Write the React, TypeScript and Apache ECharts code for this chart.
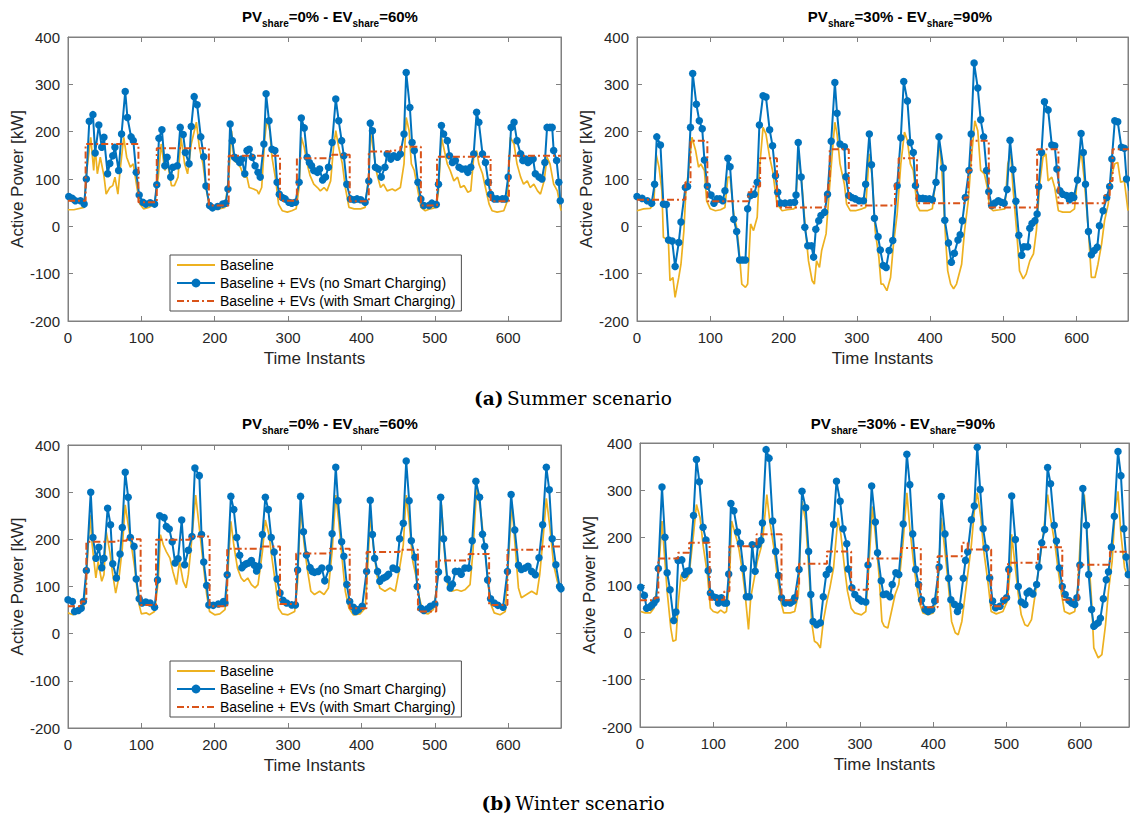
import React, { useEffect, useRef } from "react";
import * as echarts from "echarts";

type Pt = [number, number];

// ---------- (a) Summer, PV share 0% - EV share 60% ----------
const summerPv0Baseline: Pt[] = [[0,35],[8,35],[22,40],[25,110],[31,188],[35,118],[37,167],[40,111],[44,146],[49,107],[52,68],[57,82],[61,86],[64,104],[68,68],[71,118],[76,188],[80,146],[85,125],[89,132],[94,82],[98,47],[103,37],[110,40],[118,47],[123,104],[127,174],[132,118],[136,132],[141,86],[145,86],[150,104],[154,188],[159,132],[163,111],[168,174],[175,220],[179,167],[184,132],[188,82],[193,40],[197,35],[206,37],[214,40],[219,104],[223,202],[226,139],[230,135],[235,125],[240,104],[244,104],[247,82],[253,79],[258,75],[260,68],[264,82],[268,181],[271,227],[275,202],[278,146],[283,100],[287,47],[292,33],[299,30],[305,33],[311,37],[315,82],[318,188],[322,167],[326,132],[330,107],[335,89],[340,82],[344,75],[349,82],[353,75],[358,96],[362,167],[365,202],[369,167],[374,132],[378,82],[383,40],[390,37],[399,37],[405,40],[410,111],[412,202],[417,153],[421,111],[426,82],[430,89],[435,75],[442,79],[446,75],[453,82],[458,132],[461,230],[465,202],[468,132],[472,118],[477,75],[481,40],[487,33],[494,37],[502,40],[505,75],[509,188],[512,167],[517,132],[521,118],[526,96],[531,104],[535,82],[540,86],[545,72],[549,75],[553,146],[557,160],[560,132],[565,111],[569,82],[574,47],[578,33],[585,30],[594,33],[599,54],[603,188],[608,174],[612,132],[617,104],[621,89],[626,96],[630,82],[635,89],[640,75],[644,68],[649,96],[653,146],[657,132],[662,89],[667,75],[672,33]];
const summerPv0NoSmart: Pt[] = [[1,63],[6,59],[10,54],[17,54],[22,47],[25,100],[29,222],[34,236],[37,155],[42,214],[46,167],[49,188],[54,111],[57,133],[61,149],[64,167],[69,118],[73,195],[78,285],[81,230],[86,189],[89,181],[93,114],[97,66],[102,51],[106,47],[112,50],[118,47],[121,88],[124,186],[128,204],[132,128],[135,146],[140,104],[143,125],[149,128],[153,209],[157,194],[160,156],[165,132],[168,211],[172,274],[176,257],[181,189],[185,147],[188,85],[193,44],[197,39],[204,42],[211,47],[215,49],[218,79],[221,216],[224,181],[227,146],[230,142],[234,135],[237,142],[241,111],[244,160],[247,163],[251,146],[255,128],[259,114],[262,104],[267,174],[270,280],[274,223],[278,163],[282,160],[285,93],[288,68],[292,61],[296,58],[301,51],[305,49],[310,51],[315,93],[318,229],[322,208],[326,146],[329,135],[332,128],[335,118],[340,114],[343,121],[347,98],[351,104],[355,125],[360,177],[365,269],[369,223],[373,181],[376,149],[380,89],[385,58],[390,56],[394,58],[399,56],[405,51],[410,96],[412,218],[415,202],[419,125],[423,121],[427,104],[432,125],[435,153],[440,142],[444,149],[449,146],[453,153],[458,195],[461,325],[466,251],[469,177],[472,160],[477,93],[481,58],[485,44],[492,44],[496,49],[502,46],[505,89],[509,213],[512,195],[517,181],[520,149],[524,135],[528,139],[533,125],[537,121],[542,121],[545,114],[549,125],[553,153],[557,241],[560,220],[565,153],[569,135],[573,93],[576,68],[581,58],[585,58],[592,58],[596,58],[600,104],[604,209],[608,220],[612,181],[617,153],[620,139],[624,142],[627,135],[630,139],[634,142],[637,111],[642,104],[646,100],[650,135],[653,209],[657,209],[660,209],[662,160],[666,139],[669,93],[671,54]];
const summerPv0Smart: Pt[] = [[0,54],[24,174],[96,51],[121,165],[192,44],[219,149],[289,54],[312,144],[360,151],[384,53],[410,158],[440,160],[453,168],[481,44],[503,147],[576,53],[601,149],[672,149]];

// ---------- (a) Summer, PV share 30% - EV share 90% ----------
const summerPv30Baseline: Pt[] = [[0,33],[9,37],[18,38],[23,47],[26,153],[30,125],[34,75],[36,-23],[40,-27],[43,-37],[45,-115],[49,-108],[52,-150],[57,-108],[60,-80],[64,-9],[67,82],[70,111],[75,188],[80,160],[84,125],[87,132],[92,118],[95,54],[100,37],[107,33],[114,35],[120,40],[124,104],[127,104],[132,26],[136,-2],[139,-44],[143,-122],[148,-129],[151,-122],[155,5],[159,-9],[164,19],[167,118],[172,209],[176,195],[181,146],[185,118],[191,47],[198,33],[205,35],[214,37],[216,40],[218,89],[220,160],[225,89],[230,-9],[234,-73],[239,-115],[242,-122],[245,-73],[249,-87],[252,-51],[258,-16],[261,47],[266,146],[270,220],[273,195],[277,132],[283,89],[286,47],[291,33],[298,33],[307,37],[312,40],[317,153],[321,104],[325,-9],[330,-65],[333,-122],[336,-122],[341,-136],[346,-108],[350,-37],[355,26],[360,132],[365,199],[369,181],[373,132],[377,118],[382,44],[386,33],[396,33],[403,37],[409,118],[412,181],[416,118],[421,-23],[424,-94],[428,-122],[432,-132],[436,-122],[443,-80],[447,-9],[452,54],[456,139],[461,223],[465,202],[469,118],[474,111],[478,82],[481,40],[486,33],[495,35],[502,37],[506,132],[510,153],[513,82],[518,-9],[522,-94],[527,-111],[531,-101],[536,-73],[541,-58],[545,-9],[550,96],[554,146],[558,153],[561,96],[566,104],[570,82],[575,33],[581,30],[591,30],[597,37],[602,118],[606,160],[610,104],[616,-9],[620,-108],[625,-108],[629,-80],[634,-37],[638,12],[643,47],[647,104],[652,132],[656,135],[660,93],[665,96],[670,33]];
const summerPv30NoSmart: Pt[] = [[0,63],[7,59],[14,54],[20,49],[24,89],[27,189],[32,172],[36,47],[40,46],[43,-29],[48,-31],[52,-85],[57,-34],[60,9],[66,82],[69,84],[73,209],[76,323],[81,258],[85,223],[89,206],[92,140],[96,85],[101,66],[105,49],[109,58],[113,58],[117,54],[120,75],[124,144],[127,126],[132,15],[136,-11],[140,-71],[144,-71],[148,-71],[151,37],[155,65],[160,68],[164,93],[167,214],[172,276],[176,273],[181,204],[185,170],[189,107],[192,72],[196,49],[202,49],[209,50],[215,51],[217,66],[220,177],[224,104],[229,-2],[233,-41],[238,-41],[241,-65],[244,-6],[248,12],[251,23],[256,30],[260,68],[265,180],[270,304],[273,239],[277,174],[283,168],[285,105],[289,65],[293,61],[298,58],[303,54],[309,54],[312,89],[317,195],[320,130],[324,17],[329,-22],[332,-50],[336,-83],[340,-87],[344,-51],[349,-30],[355,86],[360,187],[364,306],[369,265],[373,177],[377,156],[380,86],[385,59],[390,59],[394,58],[399,58],[403,56],[408,93],[412,189],[418,123],[420,13],[425,-35],[429,-76],[433,-57],[438,-29],[441,-18],[444,12],[448,61],[453,118],[456,195],[460,345],[465,292],[469,225],[473,189],[477,118],[480,73],[484,44],[488,49],[493,54],[497,51],[501,49],[505,78],[509,182],[513,120],[517,53],[521,-19],[525,-61],[528,-43],[533,-43],[536,-4],[539,6],[543,12],[546,26],[548,84],[552,156],[556,263],[561,246],[566,172],[570,170],[573,121],[577,75],[581,68],[586,65],[590,56],[593,65],[596,61],[601,98],[606,196],[609,156],[612,89],[616,-11],[620,-60],[624,-51],[628,-44],[631,1],[636,33],[641,61],[645,84],[648,142],[652,223],[656,221],[661,167],[665,165],[668,100],[672,75]];
const summerPv30Smart: Pt[] = [[0,56],[66,93],[73,181],[96,53],[152,72],[156,84],[168,144],[191,40],[257,68],[261,96],[263,163],[289,44],[352,89],[357,144],[382,49],[447,61],[452,118],[456,181],[480,40],[546,163],[575,49],[638,65],[645,96],[649,163],[672,163]];

// ---------- (b) Winter, PV share 0% - EV share 60% ----------
const winterPv0Baseline: Pt[] = [[0,44],[7,40],[16,46],[21,54],[25,118],[30,252],[33,188],[38,118],[41,153],[46,111],[49,125],[52,217],[57,174],[61,125],[65,86],[70,125],[74,181],[78,273],[82,231],[87,181],[91,139],[96,68],[100,42],[107,44],[111,40],[118,47],[123,111],[126,210],[130,188],[134,174],[139,160],[143,132],[148,104],[152,153],[157,111],[161,97],[164,125],[168,188],[174,294],[179,224],[183,167],[189,83],[193,47],[200,40],[207,42],[214,51],[217,104],[222,238],[226,188],[231,139],[236,118],[240,111],[245,118],[250,104],[255,97],[259,104],[265,174],[269,241],[274,210],[278,160],[283,104],[287,54],[292,42],[300,40],[309,47],[313,111],[317,266],[322,188],[326,139],[331,90],[336,83],[343,90],[349,83],[355,97],[360,174],[365,294],[369,238],[374,153],[378,90],[383,54],[389,40],[398,42],[405,54],[409,153],[412,252],[416,188],[421,125],[425,97],[432,90],[439,97],[446,90],[452,139],[457,188],[461,294],[465,238],[470,153],[474,125],[479,76],[484,44],[491,42],[498,51],[502,90],[506,167],[509,273],[514,153],[518,97],[523,90],[530,93],[536,90],[541,93],[548,104],[552,174],[557,309],[562,266],[566,210],[571,139],[575,68],[581,44],[589,40],[596,47],[600,146],[605,276],[609,195],[614,97],[618,76],[625,83],[632,90],[639,83],[643,125],[648,210],[652,287],[657,224],[662,146],[667,111],[672,90]];
const winterPv0NoSmart: Pt[] = [[0,72],[6,68],[9,47],[14,49],[18,54],[21,68],[25,134],[31,300],[34,204],[38,160],[42,183],[46,140],[49,160],[54,266],[58,231],[61,148],[66,118],[71,169],[74,225],[78,342],[82,289],[85,204],[90,185],[93,116],[97,74],[101,65],[106,67],[112,65],[118,56],[122,114],[125,250],[131,246],[134,227],[138,222],[142,195],[146,150],[150,159],[155,241],[159,146],[164,177],[169,206],[173,351],[179,335],[182,210],[185,152],[189,102],[192,61],[198,60],[205,63],[212,68],[214,65],[217,125],[222,291],[226,263],[230,204],[234,166],[237,140],[240,145],[243,148],[246,150],[250,155],[254,145],[257,133],[260,143],[265,210],[269,289],[273,263],[277,204],[281,173],[285,116],[289,86],[293,71],[298,65],[305,61],[310,61],[313,135],[317,291],[321,216],[325,167],[330,140],[333,132],[336,130],[341,132],[346,139],[350,112],[356,139],[360,212],[365,353],[368,282],[373,195],[376,164],[380,104],[384,68],[389,56],[392,47],[396,51],[401,58],[407,132],[412,283],[415,210],[418,160],[422,132],[425,111],[430,118],[434,121],[437,126],[443,139],[448,136],[452,201],[457,234],[461,366],[465,282],[468,197],[473,162],[476,100],[481,54],[485,49],[490,53],[494,58],[500,63],[505,131],[508,289],[512,201],[517,116],[521,97],[524,105],[528,132],[533,132],[536,126],[541,139],[546,139],[551,197],[556,323],[561,289],[565,211],[568,185],[572,114],[576,74],[581,65],[586,60],[593,56],[599,132],[604,295],[609,220],[614,145],[618,136],[623,139],[627,143],[632,132],[637,125],[642,161],[647,231],[652,353],[656,305],[660,201],[665,146],[670,100],[672,95]];
const winterPv0Smart: Pt[] = [[0,58],[18,68],[25,195],[66,197],[80,200],[99,61],[120,199],[166,206],[193,58],[217,180],[266,185],[289,63],[311,170],[357,180],[384,54],[407,173],[452,178],[477,47],[502,155],[546,169],[574,61],[599,178],[646,185],[672,185]];

// ---------- (b) Winter, PV share 30% - EV share 90% ----------
const winterPv30Baseline: Pt[] = [[1,44],[7,41],[14,41],[19,51],[24,101],[30,235],[34,150],[37,87],[42,9],[45,-19],[49,-16],[52,59],[56,122],[59,108],[63,111],[67,122],[73,207],[77,270],[82,242],[86,185],[92,122],[96,51],[100,44],[106,41],[110,47],[115,41],[118,44],[122,108],[125,235],[130,207],[134,185],[139,136],[143,87],[148,6],[151,73],[156,115],[160,150],[165,178],[168,207],[173,291],[177,235],[182,185],[187,122],[192,66],[196,41],[205,41],[211,44],[216,80],[221,277],[226,235],[231,115],[234,23],[238,-19],[242,-23],[246,-33],[250,23],[255,66],[259,94],[264,136],[270,242],[274,207],[279,136],[283,87],[288,51],[293,41],[302,37],[308,44],[312,136],[317,266],[321,207],[326,122],[330,23],[333,13],[338,9],[343,44],[348,80],[353,101],[359,193],[364,295],[368,221],[373,150],[377,101],[382,59],[386,41],[393,37],[400,41],[406,87],[411,242],[416,171],[421,94],[425,23],[430,-1],[434,-5],[439,23],[443,73],[447,122],[452,185],[456,256],[460,295],[465,242],[469,171],[475,101],[479,44],[486,39],[495,44],[501,66],[506,150],[507,207],[511,150],[516,80],[520,37],[525,16],[529,13],[534,27],[539,80],[544,136],[550,207],[556,291],[560,242],[566,185],[570,136],[575,80],[579,44],[586,39],[593,44],[597,94],[602,235],[606,291],[611,185],[616,66],[619,-33],[625,-54],[630,-47],[635,16],[639,87],[644,150],[648,256],[652,298],[656,207],[661,136],[666,115]];
const winterPv30NoSmart: Pt[] = [[1,95],[6,78],[9,51],[13,53],[16,57],[19,62],[22,69],[25,135],[30,307],[34,201],[37,126],[41,90],[46,25],[49,43],[52,152],[57,153],[61,122],[64,129],[67,130],[73,247],[77,365],[81,318],[86,222],[90,195],[93,130],[96,83],[100,75],[104,73],[107,62],[111,73],[115,62],[118,62],[121,123],[124,272],[128,257],[133,212],[137,188],[141,135],[145,75],[149,75],[153,185],[157,129],[161,185],[165,194],[167,231],[172,386],[176,368],[181,235],[185,171],[189,120],[193,73],[198,62],[205,62],[209,66],[211,73],[217,133],[221,298],[226,263],[230,171],[233,80],[236,23],[241,16],[246,20],[250,75],[254,122],[258,133],[264,228],[268,319],[273,277],[277,219],[282,187],[284,134],[289,94],[293,80],[298,71],[302,66],[308,64],[311,142],[316,309],[321,233],[324,168],[329,109],[332,80],[336,81],[341,75],[344,101],[349,126],[353,122],[359,229],[364,376],[368,312],[372,208],[376,133],[380,101],[384,69],[389,48],[393,44],[398,48],[402,66],[408,138],[411,287],[416,208],[421,114],[424,69],[429,59],[433,44],[436,55],[441,114],[444,152],[447,170],[452,238],[456,267],[460,391],[464,302],[468,219],[472,178],[477,115],[481,66],[485,52],[491,55],[496,67],[500,73],[503,133],[507,288],[512,196],[516,97],[520,64],[525,59],[528,83],[531,87],[536,81],[541,101],[544,138],[548,189],[552,217],[556,348],[560,314],[565,226],[568,193],[572,136],[576,97],[580,80],[585,67],[589,62],[593,59],[596,73],[600,142],[604,304],[609,226],[612,122],[616,48],[619,13],[621,16],[625,20],[628,30],[632,71],[636,111],[639,128],[643,180],[647,245],[652,382],[656,331],[660,219],[663,159],[666,122]];
const winterPv30Smart: Pt[] = [[0,68],[20,73],[25,156],[52,168],[67,189],[95,69],[115,87],[122,182],[159,207],[193,68],[214,97],[217,145],[255,171],[288,90],[311,156],[356,178],[383,53],[406,161],[439,189],[447,175],[479,55],[495,73],[502,147],[543,180],[576,69],[598,143],[641,170],[668,170]];

const seriesNames = [
  "Baseline",
  "Baseline + EVs (no Smart Charging)",
  "Baseline + EVs (with Smart Charging)",
];
const pvShares = ["0", "30", "0", "30"];
const evShares = ["60", "90", "60", "90"];
const captionLabels = ["(a)", "(b)"];
const captionTexts = ["Summer scenario", "Winter scenario"];
const xAxisName = "Time Instants";
const yAxisName = "Active Power [kW]";

const panelData = [
  [summerPv0Baseline, summerPv0NoSmart, summerPv0Smart],
  [summerPv30Baseline, summerPv30NoSmart, summerPv30Smart],
  [winterPv0Baseline, winterPv0NoSmart, winterPv0Smart],
  [winterPv30Baseline, winterPv30NoSmart, winterPv30Smart],
];

// layout (pixels)
const layout = [
  { left: 68, top: 37, width: 493, height: 284, xMax: 672, titleX: 330, titleY: 9, legendTop: 255 },
  { left: 637, top: 37, width: 491, height: 284, xMax: 670, titleX: 900, titleY: 9, legendTop: -1 },
  { left: 68, top: 445, width: 493, height: 283, xMax: 672, titleX: 330, titleY: 416, legendTop: 661 },
  { left: 640, top: 443, width: 489, height: 284, xMax: 667, titleX: 903, titleY: 416, legendTop: -1 },
];

const FONT = "'Liberation Sans', Arial, sans-serif";
const SERIF = "'DejaVu Serif', 'Liberation Serif', serif";
const AXIS = "#808080";
const TXT = "#262626";
const YELLOW = "#EDB120";
const BLUE = "#0072BD";
const ORANGE = "#D95319";

function buildOption(): any {
  const grid: any[] = [];
  const xAxis: any[] = [];
  const yAxis: any[] = [];
  const series: any[] = [];
  const legend: any[] = [];
  const graphic: any[] = [];
  const hidden = { color: "rgba(0,0,0,0)", opacity: 0, borderWidth: 0 };

  layout.forEach((L, i) => {
    grid.push({
      left: L.left, top: L.top, width: L.width, height: L.height,
      show: true, borderColor: AXIS, borderWidth: 1, backgroundColor: "#fff",
    });
    const tick = { show: true, inside: true, length: 5, lineStyle: { color: AXIS } };
    const line = { show: true, onZero: false, lineStyle: { color: AXIS, width: 1 } };
    xAxis.push({
      type: "value", gridIndex: i, min: 0, max: L.xMax, interval: 100, position: "bottom",
      axisLine: line, axisTick: tick, splitLine: { show: false },
      axisLabel: { showMaxLabel: false, color: TXT, fontSize: 15, fontFamily: FONT, margin: 9 },
      name: xAxisName, nameLocation: "middle", nameGap: 29,
      nameTextStyle: { color: TXT, fontSize: 17, fontFamily: FONT },
    });
    xAxis.push({
      type: "value", gridIndex: i, min: 0, max: L.xMax, interval: 100, position: "top",
      axisLine: line, axisTick: tick, splitLine: { show: false }, axisLabel: { show: false },
    });
    yAxis.push({
      type: "value", gridIndex: i, min: -200, max: 400, interval: 100, position: "left",
      axisLine: line, axisTick: tick, splitLine: { show: false },
      axisLabel: { color: TXT, fontSize: 15, fontFamily: FONT, margin: 8 },
      name: yAxisName, nameLocation: "middle", nameGap: 42,
      nameTextStyle: { color: TXT, fontSize: 17, fontFamily: FONT },
    });
    yAxis.push({
      type: "value", gridIndex: i, min: -200, max: 400, interval: 100, position: "right",
      axisLine: line, axisTick: tick, splitLine: { show: false }, axisLabel: { show: false },
    });

    const [base, ev, smart] = panelData[i];
    series.push({
      name: seriesNames[0], type: "line", xAxisIndex: 2 * i, yAxisIndex: 2 * i,
      data: base, symbol: "none", lineStyle: { color: YELLOW, width: 1.7 },
      itemStyle: { color: YELLOW }, z: 2, silent: true,
    });
    series.push({
      name: seriesNames[1], type: "line", xAxisIndex: 2 * i, yAxisIndex: 2 * i,
      data: ev, symbol: "circle", symbolSize: 7.5, showSymbol: true,
      lineStyle: { color: BLUE, width: 2 }, itemStyle: { color: BLUE }, z: 3, silent: true,
    });
    series.push({
      name: seriesNames[2], type: "line", xAxisIndex: 2 * i, yAxisIndex: 2 * i,
      data: smart, step: "end", symbol: "none",
      lineStyle: { color: ORANGE, width: 2, type: [7, 3, 2, 3] },
      itemStyle: { color: ORANGE }, z: 4, silent: true,
    });

    if (L.legendTop >= 0) {
      legend.push({
        show: true,
        data: [
          { name: seriesNames[0], itemStyle: hidden },
          { name: seriesNames[1] },
          { name: seriesNames[2], itemStyle: hidden },
        ],
        orient: "vertical", left: 170, top: L.legendTop,
        padding: [3, 6, 3, 6], itemGap: 4, itemWidth: 38, itemHeight: 11,
        textStyle: { fontSize: 14, fontFamily: FONT, color: "#000", lineHeight: 14 },
        backgroundColor: "#fff", borderColor: "#4d4d4d", borderWidth: 1, borderRadius: 0,
        selectedMode: false,
      });
    }

    graphic.push({
      type: "text", x: L.titleX, y: L.titleY, silent: true,
      style: {
        text: `{b|PV}{s|share}{b|=${pvShares[i]}% - EV}{s|share}{b|=${evShares[i]}%}`,
        align: "center", verticalAlign: "top",
        rich: {
          b: { fontFamily: FONT, fontWeight: "bold", fontSize: 15, lineHeight: 16, verticalAlign: "top", fill: "#000" },
          s: { fontFamily: FONT, fontWeight: "bold", fontSize: 10, lineHeight: 10, padding: [9, 0, 0, 0], verticalAlign: "top", fill: "#000" },
        },
      },
    });
  });

  [398, 803].forEach((cy, k) => {
    graphic.push({
      type: "text", x: 573, y: cy, silent: true,
      style: {
        text: `{b|${captionLabels[k]}} {n|${captionTexts[k]}}`,
        align: "center", verticalAlign: "middle",
        rich: {
          b: { fontFamily: SERIF, fontWeight: "bold", fontSize: 18.5, fill: "#000" },
          n: { fontFamily: SERIF, fontSize: 18.5, fill: "#000" },
        },
      },
    });
  });

  return {
    animation: false,
    backgroundColor: "#fff",
    grid, xAxis, yAxis, series, legend, graphic,
  };
}

export default function App() {
  const ref = useRef<HTMLDivElement>(null);
  useEffect(() => {
    if (!ref.current) return;
    const chart = echarts.init(ref.current, undefined, { renderer: "svg" });
    chart.setOption(buildOption());
    return () => chart.dispose();
  }, []);
  return (
    <div
      ref={ref}
      style={{ position: "fixed", left: 0, top: 0, width: 1130, height: 820, background: "#fff" }}
    />
  );
}
